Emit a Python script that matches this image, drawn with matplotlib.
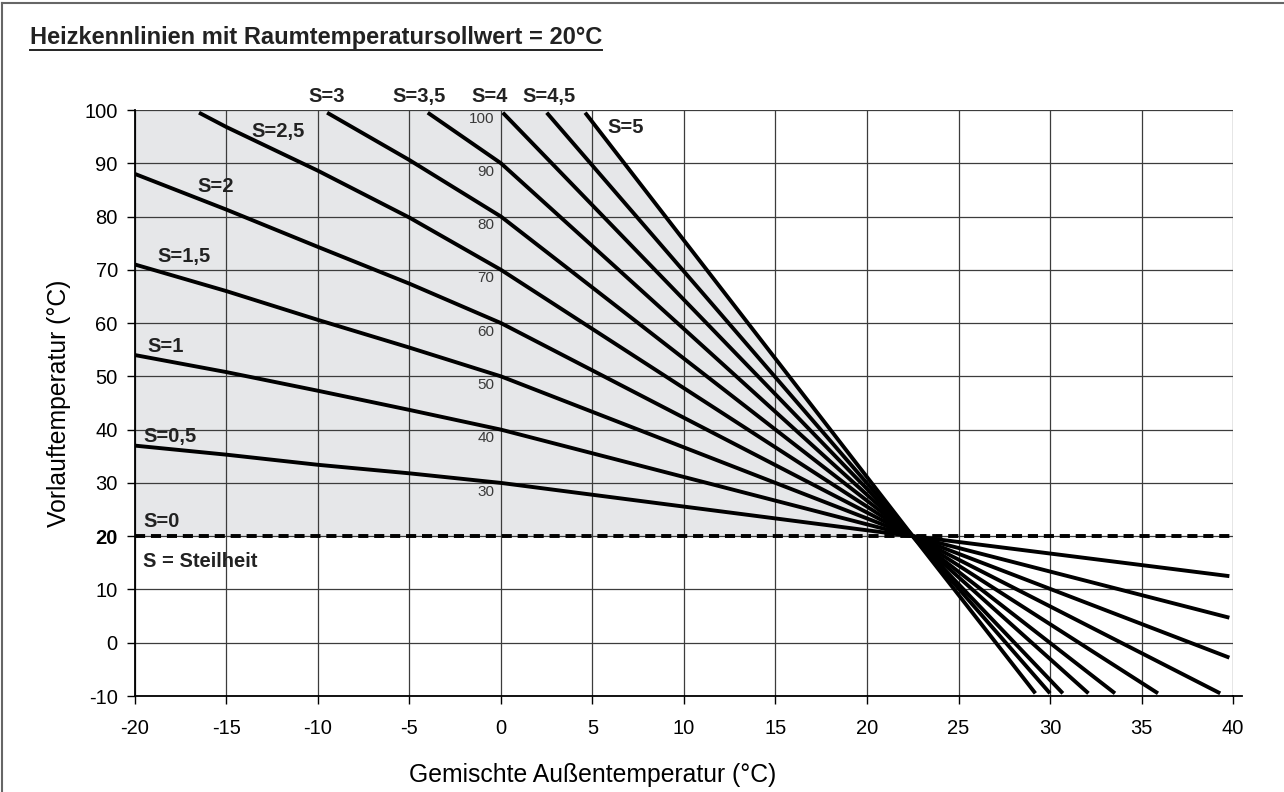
import matplotlib
matplotlib.use('Agg')
import matplotlib.pyplot as plt
from matplotlib import font_manager
from matplotlib.lines import Line2D

names = {f.name for f in font_manager.fontManager.ttflist}
narrow = 'Liberation Sans Narrow' if 'Liberation Sans Narrow' in names else 'Liberation Sans'
plt.rcParams['font.family'] = ['Liberation Sans', 'DejaVu Sans']

# Heizkennlinien
s05_x = [-20, -15, -10, -5, 0, 22.5, 39.8]
s05_y = [37, 35.3, 33.4, 31.8, 30, 20, 12.5]
s10_x = [-20, -15, -10, -5, 0, 22.5, 39.8]
s10_y = [54, 50.8, 47.3, 43.7, 40, 20, 4.7]
s15_x = [-20, -15, -10, -5, 0, 22.5, 39.8]
s15_y = [71, 66, 60.6, 55.4, 50, 20, -2.8]
s20_x = [-20, -15, -10, -5, 0, 22.5, 39.3]
s20_y = [88, 81.3, 74.3, 67.4, 60, 20, -9.5]
s25_x = [-16.5, -15, -10, -5, 0, 22.5, 35.9]
s25_y = [99.5, 96.8, 88.6, 79.8, 70, 20, -9.5]
s30_x = [-9.5, -5, 0, 22.5, 33.55]
s30_y = [99.5, 90.6, 80, 20, -9.5]
s35_x = [-4.0, 0, 22.5, 32.1]
s35_y = [99.5, 90, 20, -9.5]
s40_x = [0.1, 22.5, 30.7]
s40_y = [99.5, 20, -9.5]
s45_x = [2.5, 22.5, 30.0]
s45_y = [99.5, 20, -9.5]
s50_x = [4.6, 22.5, 29.2]
s50_y = [99.5, 20, -9.5]

curves_x = [s05_x, s10_x, s15_x, s20_x, s25_x, s30_x, s35_x, s40_x, s45_x, s50_x]
curves_y = [s05_y, s10_y, s15_y, s20_y, s25_y, s30_y, s35_y, s40_y, s45_y, s50_y]

# Beschriftungen
s_labels = ['S=0,5', 'S=1', 'S=1,5', 'S=2', 'S=2,5', 'S=3', 'S=3,5', 'S=4', 'S=4,5', 'S=5']
s_label_x = [-19.55, -19.3, -17.3, -15.6, -12.2, -9.5, -4.45, -0.6, 2.6, 6.8]
s_label_y = [38.8, 55.6, 72.5, 85.6, 95.9, 102.6, 102.6, 102.6, 102.6, 96.8]
s_label_ha = ['left', 'left', 'center', 'center', 'center', 'center', 'center', 'center', 'center', 'center']
inline_vals = [100, 90, 80, 70, 60, 50, 40, 30]

xticks = list(range(-20, 41, 5))
yticks = list(range(-10, 101, 10))

fig = plt.figure(figsize=(12.84, 7.92), dpi=100)
ax = fig.add_axes([0.1051, 0.1212, 0.8552, 0.7399])
ax.set_xlim(-20, 40)
ax.set_ylim(-10, 100)

# grauer Bereich unter S=5
ax.fill_between([-20, s50_x[0], s50_x[1]], 20, [100, 100, 20], color='#e6e7e9', lw=0, zorder=0)

ax.set_xticks(xticks)
ax.set_yticks(yticks)
ax.grid(True, color='#3c3c3c', lw=0.9, zorder=1)
ax.set_axisbelow(True)

for xs, ys in zip(curves_x, curves_y):
    ax.plot(xs, ys, color='black', lw=2.8, solid_capstyle='butt', zorder=3)

# S=0
ax.plot([-20, 40], [20, 20], color='black', lw=2.8, dashes=(2.6, 1.5), zorder=3)

lab_kw = dict(va='center', fontsize=14.5, fontweight='bold', family=narrow, color='#222222', zorder=4)
for lab, lx, ly, ha in zip(s_labels, s_label_x, s_label_y, s_label_ha):
    ax.text(lx, ly, lab, ha=ha, clip_on=False, **lab_kw)
ax.text(-19.55, 22.7, 'S=0', ha='left', **lab_kw)
ax.text(-19.55, 15.2, 'S = Steilheit', ha='left', **lab_kw)

for v in inline_vals:
    ax.text(-0.35, v - 0.3, str(v), ha='right', va='top', fontsize=11, color='#3a3a3a', zorder=4)

for sp in ['top', 'right']:
    ax.spines[sp].set_visible(False)
for sp in ['left', 'bottom']:
    ax.spines[sp].set_linewidth(1.3)
ax.plot([40, 40.5], [-10, -10], color='black', lw=1.3, clip_on=False, zorder=3)
ax.tick_params(direction='out', length=5.8, width=1, labelsize=14.5, colors='black')
ax.tick_params(axis='y', pad=6.5)
ax.tick_params(axis='x', pad=11)
ax.set_xticklabels([str(t) for t in xticks])
ax.set_yticklabels([str(t) for t in yticks])
for t in ax.get_yticklabels():
    if t.get_text() == '20':
        t.set_fontweight('bold')

ax.set_xlabel('Gemischte Außentemperatur (°C)', fontsize=17.8)
ax.xaxis.set_label_coords(0.417, -0.115)
ax.set_ylabel('Vorlauftemperatur (°C)', fontsize=17.8, labelpad=10)

title = fig.text(30 / 1284, 1 - 44 / 792, 'Heizkennlinien mit Raumtemperatursollwert = 20°C',
                 ha='left', va='baseline', fontsize=17, fontweight='bold', family=narrow, color='#222222')

# Rahmen links und oben
fig.add_artist(Line2D([0.0016, 0.0016], [0, 0.996], transform=fig.transFigure, color='#666666', lw=1.5))
fig.add_artist(Line2D([0.0016, 1], [0.996, 0.996], transform=fig.transFigure, color='#666666', lw=1.5))

# Titel unterstreichen
fig.canvas.draw()
bb = title.get_window_extent()
W, H = fig.get_size_inches() * fig.dpi
yl = (bb.y0 - 1.0) / H
fig.add_artist(Line2D([bb.x0 / W, bb.x1 / W], [yl, yl], transform=fig.transFigure, color='#222222', lw=1.4))

fig.savefig('out.png', dpi=100)
